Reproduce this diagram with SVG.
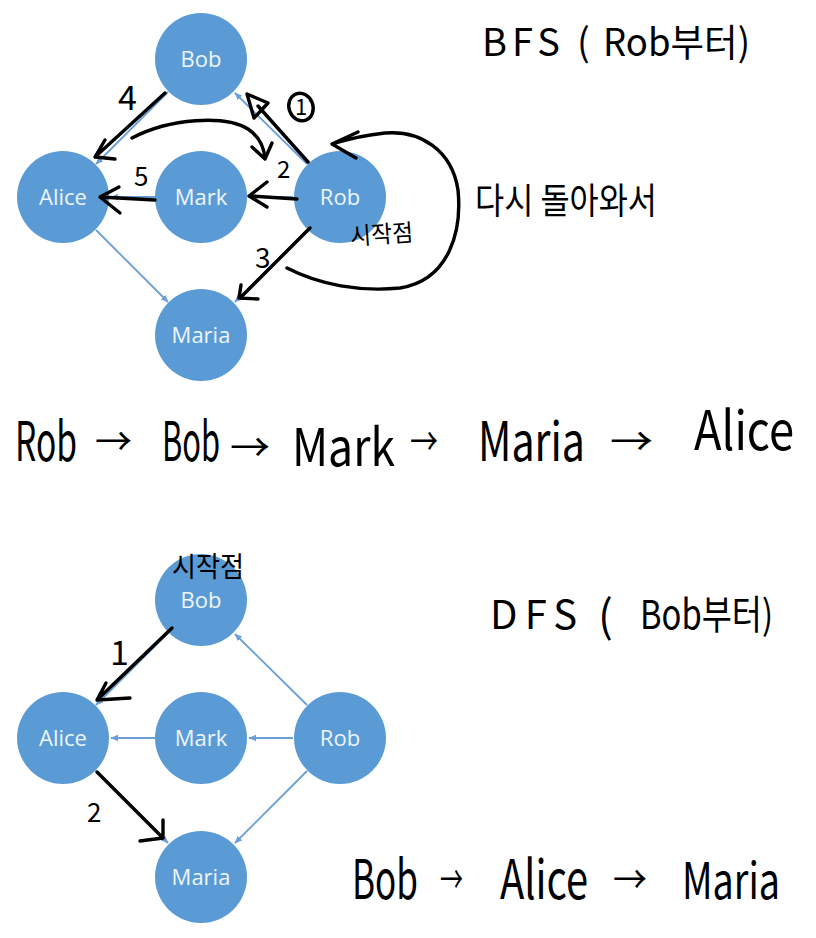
<svg xmlns="http://www.w3.org/2000/svg" width="816" height="938" viewBox="0 0 816 938">
<defs>
<marker id="ah" markerWidth="8" markerHeight="8" refX="7" refY="4" orient="auto" markerUnits="userSpaceOnUse">
<path d="M0,0.8 L7.5,4 L0,7.2 z" fill="#6a9fd6"/>
</marker>
<style>
.node circle{fill:#5b9bd5}
.node text{font-family:"Open Sans","Noto Sans",sans-serif;font-size:22px;fill:#eef5fc;text-anchor:middle}
.edge{stroke:#6a9fd6;stroke-width:1.8;fill:none;marker-end:url(#ah)}
.ink{stroke:#000;stroke-width:3.4;fill:none;stroke-linecap:round;stroke-linejoin:round}
.hw{font-family:"Noto Sans CJK KR","Noto Sans",sans-serif;fill:#000}
.arr{font-family:"Noto Sans CJK KR","Noto Sans",sans-serif;fill:#000;font-size:38px}
</style>
</defs>
<rect width="816" height="938" fill="#fff"/>

<!-- top graph -->
<g id="top-edges">
<line class="edge" x1="307" y1="164" x2="235" y2="93"/>
<line class="edge" x1="293" y1="197" x2="249" y2="197"/>
<line class="edge" x1="307" y1="230" x2="235" y2="302"/>
<line class="edge" x1="155" y1="197" x2="111" y2="197"/>
<line class="edge" x1="168" y1="92" x2="96" y2="164"/>
<line class="edge" x1="96" y1="230" x2="168" y2="302"/>
</g>
<g id="top-bob" class="node"><circle cx="201" cy="59" r="46"/><text x="201" y="67">Bob</text></g>
<g id="top-alice" class="node"><circle cx="63" cy="197" r="46"/><text x="63" y="205">Alice</text></g>
<g id="top-mark" class="node"><circle cx="201" cy="197" r="46"/><text x="201" y="205">Mark</text></g>
<g id="top-rob" class="node"><circle cx="340" cy="197" r="46"/><text x="340" y="205">Rob</text></g>
<g id="top-maria" class="node"><circle cx="201" cy="335" r="46"/><text x="201" y="343">Maria</text></g>

<g id="top-ink">
<path class="ink" d="M165 93 L95 157 M105 140 L95 157 L115 159"/>
<path class="ink" d="M132 138 C170 118 225 115 248 129 C260 137 264 148 265 158 M252 147 L265 159 L272 143"/>
<path class="ink" d="M297 199 L249 196 M267 182 L249 196 L267 207"/>
<path class="ink" d="M155 200 L100 197 M119 187 L100 197 L120 213"/>
<path class="ink" d="M308 162 L258 106 M247 94 L268 103 L254 118 Z"/>
<path class="ink" d="M310 228 L240 298 M241 285 L239 298 L258 299"/>
<path class="ink" d="M287 268 C320 285 360 292 400 288 C450 280 462 230 458 190 C452 150 420 130 385 133 C365 135 345 140 332 144 M358 132 L332 144 L356 158"/>
<ellipse class="ink" cx="301" cy="107" rx="12" ry="14" transform="rotate(-20 301 107)" stroke-width="2.6"/>
<text class="hw" x="301" y="115" font-size="22" text-anchor="middle">1</text>
<text class="hw" x="118" y="110" font-size="34">4</text>
<text class="hw" x="277" y="178" font-size="24">2</text>
<text class="hw" x="134" y="186" font-size="26">5</text>
<text class="hw" x="255" y="268" font-size="28">3</text>
<text class="hw" x="350" y="243" font-size="24" textLength="63" lengthAdjust="spacingAndGlyphs" transform="rotate(-4 380 232)">시작점</text>
</g>

<g id="top-text">
<text class="hw" x="482" y="56" font-size="38" textLength="78" lengthAdjust="spacing">BFS</text>
<text class="hw" x="577" y="56" font-size="38">(</text>
<text class="hw" x="603" y="56" font-size="38" textLength="147" lengthAdjust="spacingAndGlyphs">Rob부터)</text>
<text class="hw" x="475" y="214" font-size="36" textLength="182" lengthAdjust="spacingAndGlyphs">다시 돌아와서</text>
</g>

<g id="bfs-order">
<text class="hw" x="15" y="461" font-size="54" textLength="62" lengthAdjust="spacingAndGlyphs">Rob</text>
<text class="arr" x="95" y="455" textLength="37" lengthAdjust="spacingAndGlyphs">→</text>
<text class="hw" x="162" y="461" font-size="54" textLength="58" lengthAdjust="spacingAndGlyphs">Bob</text>
<text class="arr" x="230" y="461" textLength="40" lengthAdjust="spacingAndGlyphs">→</text>
<text class="hw" x="292" y="466" font-size="52" textLength="103" lengthAdjust="spacingAndGlyphs">Mark</text>
<text class="arr" x="410" y="455" textLength="28" lengthAdjust="spacingAndGlyphs">→</text>
<text class="hw" x="478" y="461" font-size="54" textLength="107" lengthAdjust="spacingAndGlyphs">Maria</text>
<text class="arr" x="610" y="455" textLength="43" lengthAdjust="spacingAndGlyphs">→</text>
<text class="hw" x="694" y="450" font-size="54" textLength="100" lengthAdjust="spacingAndGlyphs">Alice</text>
</g>

<!-- bottom graph -->
<g id="bottom-edges">
<line class="edge" x1="307" y1="705" x2="235" y2="634"/>
<line class="edge" x1="293" y1="738" x2="249" y2="738"/>
<line class="edge" x1="307" y1="771" x2="235" y2="843"/>
<line class="edge" x1="155" y1="738" x2="111" y2="738"/>
<line class="edge" x1="168" y1="633" x2="96" y2="705"/>
<line class="edge" x1="96" y1="771" x2="168" y2="843"/>
</g>
<g id="bot-bob" class="node"><circle cx="201" cy="600" r="46"/><text x="201" y="608">Bob</text></g>
<g id="bot-alice" class="node"><circle cx="63" cy="738" r="46"/><text x="63" y="746">Alice</text></g>
<g id="bot-mark" class="node"><circle cx="201" cy="738" r="46"/><text x="201" y="746">Mark</text></g>
<g id="bot-rob" class="node"><circle cx="340" cy="738" r="46"/><text x="340" y="746">Rob</text></g>
<g id="bot-maria" class="node"><circle cx="201" cy="877" r="46"/><text x="201" y="885">Maria</text></g>

<g id="bottom-ink">
<path class="ink" d="M172 628 L97 700 M106 683 L97 700 L130 698"/>
<path class="ink" d="M97 772 L163 838 M163 820 L163 838 L140 841"/>
<text class="hw" x="110" y="665" font-size="34">1</text>
<text class="hw" x="87" y="822" font-size="26">2</text>
<text class="hw" x="172" y="577" font-size="28" textLength="72" lengthAdjust="spacingAndGlyphs">시작점</text>
</g>

<g id="bottom-text">
<text class="hw" x="490" y="629" font-size="40" textLength="87" lengthAdjust="spacing">DFS</text>
<text class="hw" x="598" y="632" font-size="44">(</text>
<text class="hw" x="640" y="629" font-size="40" textLength="133" lengthAdjust="spacingAndGlyphs">Bob부터)</text>
</g>

<g id="dfs-order">
<text class="hw" x="352" y="899" font-size="54" textLength="66" lengthAdjust="spacingAndGlyphs">Bob</text>
<text class="arr" x="440" y="893" textLength="23" lengthAdjust="spacingAndGlyphs">→</text>
<text class="hw" x="500" y="899" font-size="54" textLength="88" lengthAdjust="spacingAndGlyphs">Alice</text>
<text class="arr" x="613" y="893" textLength="34" lengthAdjust="spacingAndGlyphs">→</text>
<text class="hw" x="682" y="899" font-size="50" textLength="98" lengthAdjust="spacingAndGlyphs">Maria</text>
</g>
</svg>
